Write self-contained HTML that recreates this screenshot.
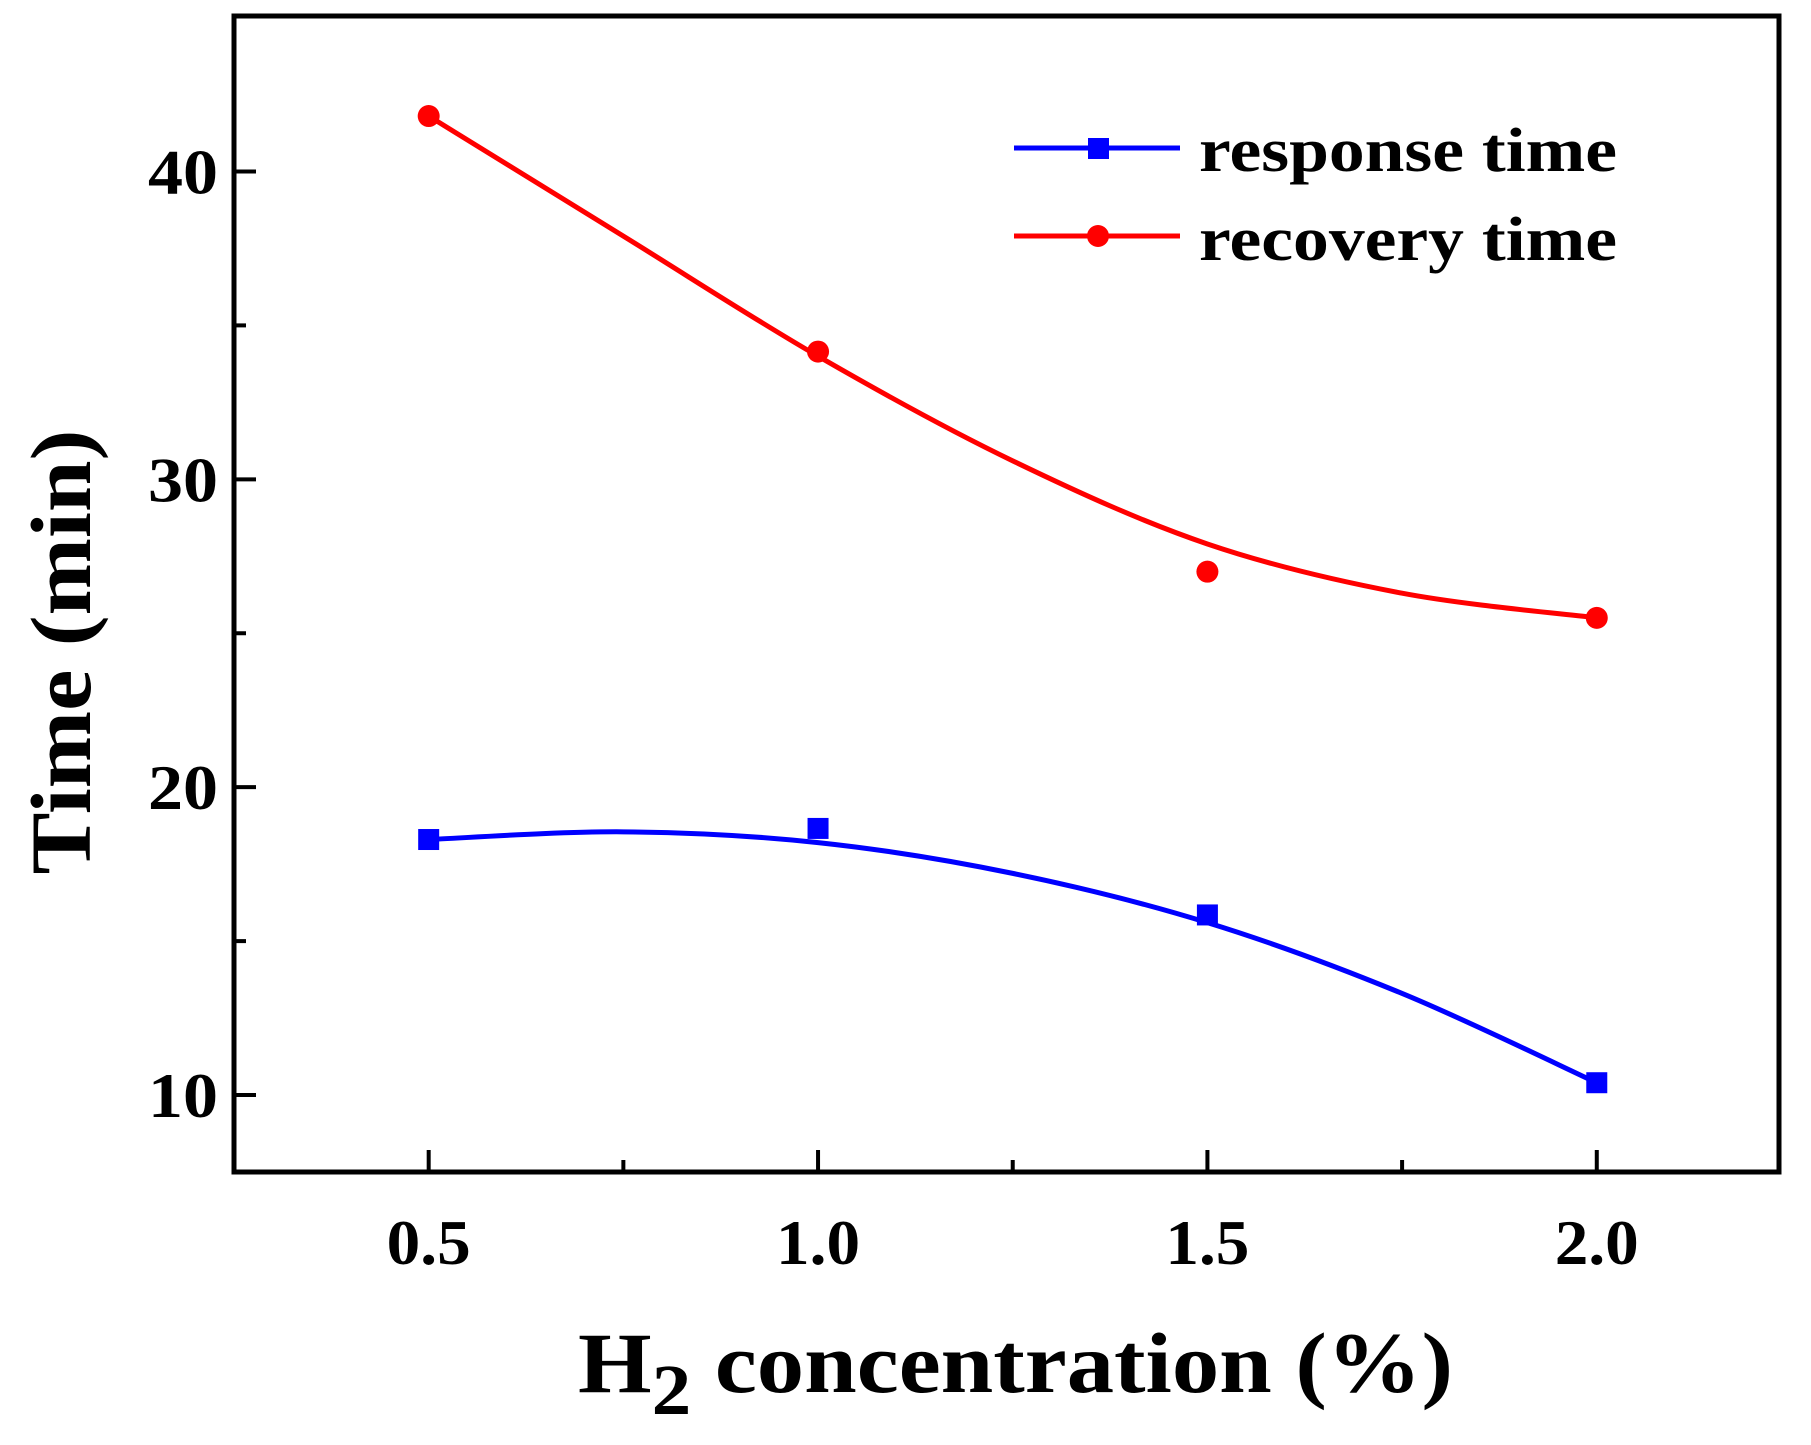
<!DOCTYPE html>
<html><head><meta charset="utf-8"><style>
html,body{margin:0;padding:0;background:#fff;}
svg text{font-family:"Liberation Serif",serif;font-weight:bold;fill:#000;}
</style></head><body>
<svg id="chart" width="1811" height="1440" viewBox="0 0 1811 1440" xmlns="http://www.w3.org/2000/svg">
<g id="axes"></g>
<g id="series"></g>
<g id="legend">
  <line x1="1014" y1="148" x2="1180" y2="148" stroke="#0000ff" stroke-width="5"/>
  <rect x="1088" y="138" width="21" height="21" fill="#0000ff"/>
  <text x="1199" y="171" font-size="62" textLength="418" lengthAdjust="spacingAndGlyphs">response time</text>
  <line x1="1014" y1="236" x2="1180" y2="236" stroke="#ff0000" stroke-width="5"/>
  <circle cx="1098" cy="236" r="11" fill="#ff0000"/>
  <text x="1199" y="260" font-size="62" textLength="418" lengthAdjust="spacingAndGlyphs">recovery time</text>
</g>
<text x="578" y="1392" font-size="86" textLength="875" lengthAdjust="spacingAndGlyphs">H<tspan font-size="72" dy="22">2</tspan><tspan dy="-22"> concentration (%)</tspan></text>
<text transform="translate(90,652) rotate(-90)" font-size="86" text-anchor="middle" textLength="445" lengthAdjust="spacingAndGlyphs">Time (min)</text>
</svg>
<script>
const concentrations = [0.5, 1.0, 1.5, 2.0];
const responseTime = [18.3, 18.66, 15.85, 10.4];
const recoveryTime = [41.8, 34.15, 27.0, 25.5];
const fitX = [0.5, 0.75, 1.0, 1.25, 1.5, 1.75, 2.0];
const responseFit = [18.3, 18.55, 18.2, 17.2, 15.6, 13.3, 10.4];
const recoveryFit = [41.8, 37.9, 34.0, 30.6, 27.9, 26.3, 25.5];
const xTicks = [0.5, 1.0, 1.5, 2.0];
const xTickLabels = ["0.5", "1.0", "1.5", "2.0"];
const xMinorTicks = [0.75, 1.25, 1.75];
const yTicks = [10, 20, 30, 40];
const yTickLabels = ["10", "20", "30", "40"];
const yMinorTicks = [15, 25, 35];

const L=234,R=1779,T=16,B=1172;
const xMin=0.25,xMax=2.234,yMin=7.5,yMax=45.05;
const sx=v=>L+(v-xMin)/(xMax-xMin)*(R-L);
const sy=v=>B-(v-yMin)/(yMax-yMin)*(B-T);
const NS="http://www.w3.org/2000/svg";
function mk(tag,attrs,parent){const e=document.createElementNS(NS,tag);for(const k in attrs)e.setAttribute(k,attrs[k]);parent.appendChild(e);return e;}
const axes=document.getElementById('axes'), series=document.getElementById('series');

let f=mk('rect',{x:L,y:T,width:R-L,height:B-T,fill:'none',stroke:'#000','stroke-width':5},axes);


xTicks.forEach((v,i)=>{
  let t=mk('line',{x1:sx(v),x2:sx(v),y1:B,y2:B-22,stroke:'#000','stroke-width':4},axes);
  
  
  let l=mk('text',{x:sx(v)-42,y:B+92,'font-size':64,textLength:84,lengthAdjust:'spacingAndGlyphs'},axes);l.textContent=xTickLabels[i];
  
  
});
xMinorTicks.forEach(v=>{
  let t=mk('line',{x1:sx(v),x2:sx(v),y1:B,y2:B-12,stroke:'#000','stroke-width':4},axes);
  
  
});
yTicks.forEach((v,i)=>{
  let t=mk('line',{x1:L,x2:L+22,y1:sy(v),y2:sy(v),stroke:'#000','stroke-width':4},axes);
  
  
  let l=mk('text',{x:L-16-70,y:sy(v)+22,'font-size':64,textLength:70,lengthAdjust:'spacingAndGlyphs'},axes);l.textContent=yTickLabels[i];
  
  
});
yMinorTicks.forEach(v=>{
  let t=mk('line',{x1:L,x2:L+12,y1:sy(v),y2:sy(v),stroke:'#000','stroke-width':4},axes);
  
  
});
function smooth(xs,ys){
  const p=xs.map((x,i)=>[sx(x),sy(ys[i])]);
  let d=`M${p[0][0]},${p[0][1]}`;
  for(let i=0;i<p.length-1;i++){
    const p0=p[i-1]||p[i],p1=p[i],p2=p[i+1],p3=p[i+2]||p2;
    d+=` C${p1[0]+(p2[0]-p0[0])/6},${p1[1]+(p2[1]-p0[1])/6} ${p2[0]-(p3[0]-p1[0])/6},${p2[1]-(p3[1]-p1[1])/6} ${p2[0]},${p2[1]}`;
  }
  return d;
}
let c1=mk('path',{d:smooth(fitX,recoveryFit),fill:'none',stroke:'#ff0000','stroke-width':5},series);


let c2=mk('path',{d:smooth(fitX,responseFit),fill:'none',stroke:'#0000ff','stroke-width':5},series);


concentrations.forEach((x,i)=>{
  let c=mk('circle',{cx:sx(x),cy:sy(recoveryTime[i]),r:11,fill:'#ff0000'},series);
  
  
  let s=mk('rect',{x:sx(x)-10.5,y:sy(responseTime[i])-10.5,width:21,height:21,fill:'#0000ff'},series);
  
  
});
</script>
</body></html>
